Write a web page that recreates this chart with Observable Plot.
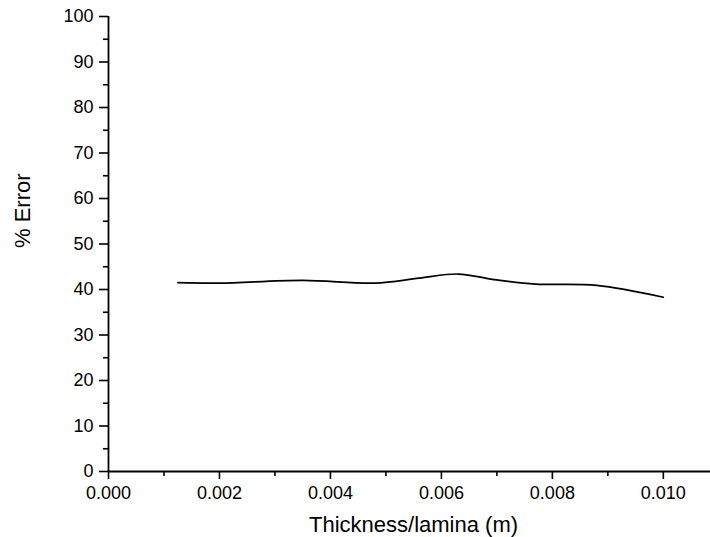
<!DOCTYPE html>
<html>
<head>
<meta charset="utf-8">
<script src="https://cdn.jsdelivr.net/npm/d3@7"></script>
<script src="https://cdn.jsdelivr.net/npm/@observablehq/plot@0.6"></script>
<style>
  html, body { margin: 0; padding: 0; background: #fff; }
  #chart svg { display: block; }
</style>
</head>
<body>
<div id="chart"></div>
<script>
const thickness = [0.00125, 0.002, 0.0035, 0.0048, 0.0056, 0.0063, 0.007, 0.0077, 0.0088, 0.010];
const errorPct  = [41.5, 41.4, 42.0, 41.4, 42.5, 43.4, 42.1, 41.2, 40.9, 38.3];
const xTicks = [0, 0.002, 0.004, 0.006, 0.008, 0.010];
const xMinorTicks = [0.001, 0.003, 0.005, 0.007, 0.009];
const yTicks = [0, 10, 20, 30, 40, 50, 60, 70, 80, 90, 100];
const yMinorTicks = [5, 15, 25, 35, 45, 55, 65, 75, 85, 95];
const xTitle = "Thickness/lamina (m)";
const yTitle = "% Error";

const data = thickness.map((t, i) => ({t, e: errorPct[i]}));
const font = "'Liberation Sans', Arial, sans-serif";

const chart = Plot.plot({
  width: 710,
  height: 537,
  marginLeft: 108,
  marginRight: 0,
  marginTop: 16,
  marginBottom: 66,
  style: {fontFamily: font, background: "#fff", color: "#000"},
  x: {domain: [0, 0.01085]},
  y: {domain: [0, 100]},
  marks: [
    Plot.axisX(xTicks, {tickSize: 8, tickPadding: 7, fontSize: 18, tickFormat: d3.format(".3f"), strokeWidth: 1.6, strokeOpacity: 1, label: null}),
    Plot.axisX(xMinorTicks, {tickSize: 5, text: null, strokeWidth: 1.6, strokeOpacity: 1, label: null}),
    Plot.axisY(yTicks, {tickSize: 9, tickPadding: 6, fontSize: 18, strokeWidth: 1.6, strokeOpacity: 1, label: null}),
    Plot.axisY(yMinorTicks, {tickSize: 5, text: null, strokeWidth: 1.6, strokeOpacity: 1, label: null}),
    Plot.ruleX([0], {strokeWidth: 1.8}),
    Plot.ruleY([0], {strokeWidth: 1.8}),
    Plot.line(data, {x: "t", y: "e", curve: "catmull-rom", stroke: "#000", strokeWidth: 1.7}),
    Plot.text([xTitle], {frameAnchor: "bottom", dx: 4, dy: 53, lineAnchor: "middle", fontSize: 22, fill: "#000"}),
    Plot.text([yTitle], {frameAnchor: "left", dx: -85.5, dy: 4, rotate: -90, lineAnchor: "middle", fontSize: 22, fill: "#000"})
  ]
});
document.getElementById("chart").appendChild(chart);
</script>
</body>
</html>
